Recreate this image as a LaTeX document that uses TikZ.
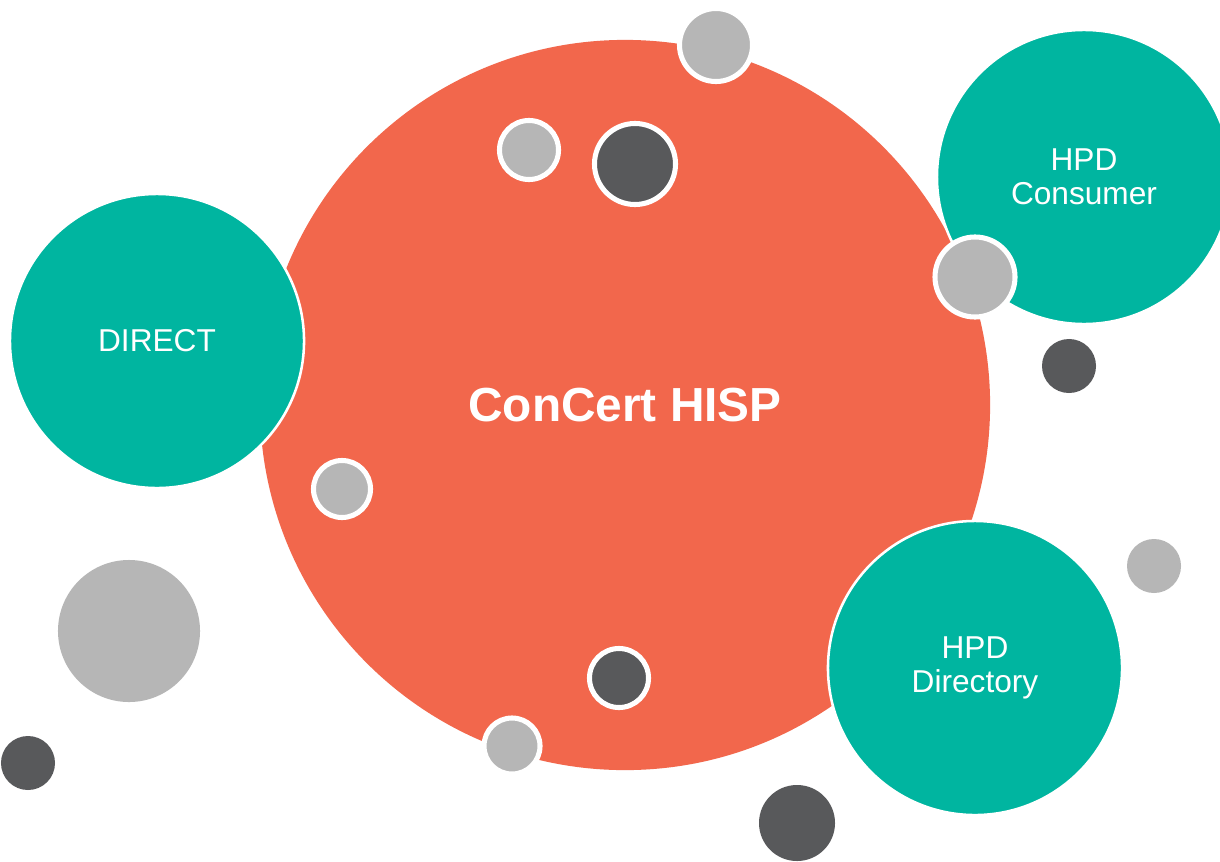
\documentclass[tikz,border=0pt]{standalone}
\usepackage{fontspec}
\setmainfont{Liberation Sans}
\usepackage{tikz}
\definecolor{hisporange}{HTML}{F2674C}
\definecolor{hispteal}{HTML}{00B5A0}
\definecolor{dotgray}{HTML}{B6B6B6}
\definecolor{dotdark}{HTML}{58595B}
\tikzset{
  hub/.style={circle, fill=hisporange, inner sep=0pt, minimum size=18.25cm,
    text=white, font=\fontsize{34}{36}\selectfont\bfseries},
  spoke/.style={circle, fill=hispteal, draw=white, line width=1.8pt, inner sep=0pt,
    minimum size=7.35cm, text=white, align=center,
    font=\fontsize{22.5}{24.5}\selectfont},
  ringdot/.style={circle, draw=white, line width=3.6pt, inner sep=0pt},
  dot/.style={circle, inner sep=0pt}
}

\begin{document}
\begin{tikzpicture}[x=0.025cm, y=-0.025cm]
\clip (0,0) rectangle (1220,861);
\fill[white] (0,0) rectangle (1220,861);

\node[hub] (hisp) at (625,405) {ConCert HISP};

\node[spoke] (direct) at (157,341) {DIRECT};
\node[spoke] (consumer) at (1084,177) {HPD\\Consumer};
\node[spoke] (directory) at (975,668) {HPD\\Directory};

% dots with a white ring
\node[ringdot, fill=dotgray, minimum size=1.825cm] (g1) at (716,45) {};
\node[ringdot, fill=dotgray, minimum size=1.475cm] (g2) at (529,150) {};
\node[ringdot, fill=dotdark, minimum size=2.025cm] (d1) at (635,164) {};
\node[ringdot, fill=dotgray, minimum size=2.0cm] (g3) at (975,277) {};
\node[ringdot, fill=dotgray, minimum size=1.425cm] (g4) at (342,489) {};
\node[ringdot, fill=dotdark, minimum size=1.475cm] (d4) at (619,678) {};
\node[ringdot, fill=dotgray, minimum size=1.4cm] (g6) at (512,746) {};

% plain dots
\node[dot, fill=dotdark, minimum size=1.35cm] (d2) at (1069,366) {};
\node[dot, fill=dotgray, minimum size=3.55cm] (g5) at (129,631) {};
\node[dot, fill=dotdark, minimum size=1.35cm] (d3) at (28,763) {};
\node[dot, fill=dotdark, minimum size=1.9cm] (d5) at (797,823) {};
\node[dot, fill=dotgray, minimum size=1.35cm] (g7) at (1154,566) {};
\end{tikzpicture}
\end{document}
